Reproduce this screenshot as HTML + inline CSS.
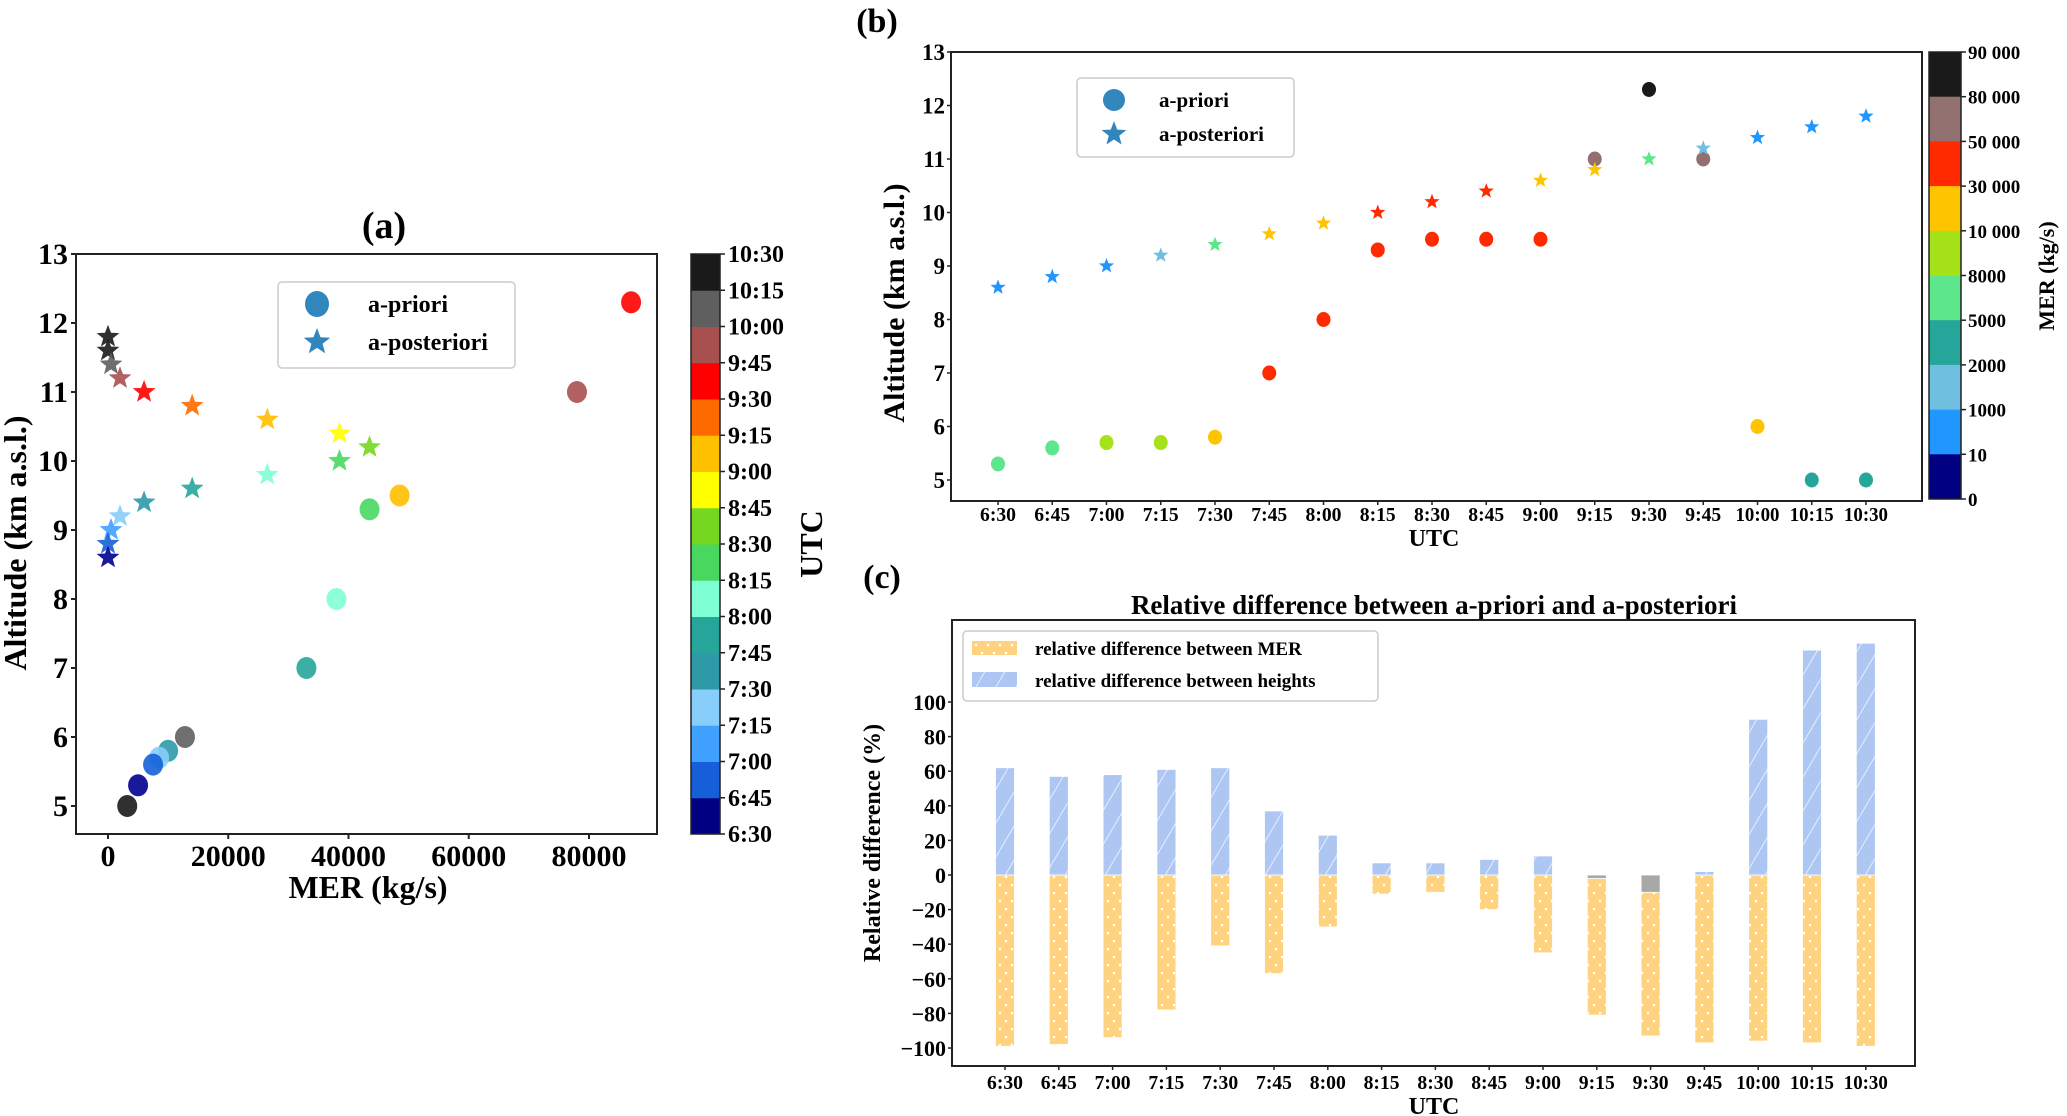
<!DOCTYPE html>
<html><head><meta charset="utf-8">
<style>
html,body{margin:0;padding:0;background:#fff;}
svg{display:block;font-family:"Liberation Serif","Times New Roman",serif;font-weight:bold;}
</style></head>
<body>
<svg id="fig" width="2067" height="1116" viewBox="0 0 2067 1116" xmlns="http://www.w3.org/2000/svg">
<defs>
<pattern id="dots" width="12" height="16" patternUnits="userSpaceOnUse"><rect width="12" height="16" fill="#ffd280"/><circle cx="4" cy="5" r="1.3" fill="#fff"/><circle cx="10" cy="13" r="1.3" fill="#fff"/></pattern>
<pattern id="hatch" width="20" height="34" patternUnits="userSpaceOnUse"><rect width="20" height="34" fill="#aec6f2"/><line x1="0" y1="34" x2="20" y2="0" stroke="#e6eefc" stroke-width="1"/></pattern>
</defs>
<g id="pa"></g>
<g id="pb"></g>
<g id="pc"></g>
</svg>
<script>
// ---------- Panel (a) data ----------
const aPrioriMER = [87000, 78000, 48500, 43500, 38000, 33000, 12800, 10000, 8500, 7500, 5000, 3200];
const aPrioriAlt = [12.3, 11.0, 9.5, 9.3, 8.0, 7.0, 6.0, 5.8, 5.7, 5.6, 5.3, 5.0];
const aPrioriColor = ['#ff0000','#a85050','#ffc000','#48d860','#7fffd4','#26a69a','#5f5f5f','#2e9aa8','#87cefa','#1560d8','#000090','#1a1a1a'];
const aPostMER = [0, 0, 500, 2000, 6000, 14000, 26500, 38500, 43500, 38500, 26500, 14000, 6000, 2000, 500, 0, 0];
const aPostAlt = [11.8, 11.6, 11.4, 11.2, 11.0, 10.8, 10.6, 10.4, 10.2, 10.0, 9.8, 9.6, 9.4, 9.2, 9.0, 8.8, 8.6];
const aPostColor = ['#1a1a1a','#1a1a1a','#5f5f5f','#a85050','#ff0000','#ff6a00','#ffc000','#ffff00','#74d820','#48d860','#7fffd4','#26a69a','#2e9aa8','#87cefa','#40a0ff','#1560d8','#000090'];
const aXTicks = [0, 20000, 40000, 60000, 80000];
const aXTickLabels = ['0','20000','40000','60000','80000'];
const aYTicks = [5,6,7,8,9,10,11,12,13];
const utcLabels = ['6:30','6:45','7:00','7:15','7:30','7:45','8:00','8:15','8:30','8:45','9:00','9:15','9:30','9:45','10:00','10:15','10:30'];
const utcColors = ['#000080','#1560d8','#40a0ff','#87cefa','#2e9aa8','#26a69a','#7fffd4','#48d860','#74d820','#ffff00','#ffc000','#ff6a00','#ff0000','#a85050','#5f5f5f','#1a1a1a'];

// ---------- Panel (b) data ----------
const bPriori = [5.3, 5.6, 5.7, 5.7, 5.8, 7.0, 8.0, 9.3, 9.5, 9.5, 9.5, 11.0, 12.3, 11.0, 6.0, 5.0, 5.0];
const bPrioriColor = ['#5ee68c','#5ee68c','#a6e21a','#a6e21a','#ffc400','#ff2a00','#ff2a00','#ff2a00','#ff2a00','#ff2a00','#ff2a00','#937070','#1a1a1a','#937070','#ffc400','#26a69a','#26a69a'];
const bPost = [8.6, 8.8, 9.0, 9.2, 9.4, 9.6, 9.8, 10.0, 10.2, 10.4, 10.6, 10.8, 11.0, 11.2, 11.4, 11.6, 11.8];
const bPostColor = ['#2196ff','#2196ff','#2196ff','#6fc0e0','#5ee68c','#ffc400','#ffc400','#ff2a00','#ff2a00','#ff2a00','#ffc400','#ffc400','#5ee68c','#6fc0e0','#2196ff','#2196ff','#2196ff'];
const merLabels = ['90 000','80 000','50 000','30 000','10 000','8000','5000','2000','1000','10','0'];
const merColors = ['#1a1a1a','#937070','#ff2a00','#ffc400','#a6e21a','#5ee68c','#26a69a','#6fc0e0','#2196ff','#000080'];

// ---------- Panel (c) data ----------
const cMER = [-99, -98, -94, -78, -41, -57, -30, -11, -10, -20, -45, -81, -93, -97, -96, -97, -99];
const cHeight = [62, 57, 58, 61, 62, 37, 23, 7, 7, 9, 11, -2, -10, 2, 90, 130, 134];
const cYTicks = [-100,-80,-60,-40,-20,0,20,40,60,80,100];

const NS='http://www.w3.org/2000/svg';
function mk(parent, tag, attrs, text){const e=document.createElementNS(NS,tag);for(const k in attrs)e.setAttribute(k,attrs[k]);if(text!==undefined)e.textContent=text;parent.appendChild(e);return e;}
function starPts(cx,cy,R){const r=R*0.42;let p=[];for(let i=0;i<10;i++){const a=-Math.PI/2+i*Math.PI/5;const rr=i%2?r:R;p.push((cx+rr*Math.cos(a)).toFixed(1)+','+(cy+rr*Math.sin(a)).toFixed(1));}return p.join(' ');}

// ===== Panel A =====
const A=document.getElementById('pa');
const ax={l:76,r:657,t:254,b:834};
const xA=v=>108+(v/80000)*(589-108);
const yA=v=>806-(v-5)*69;
let t=mk(A,'text',{x:384,y:238,'font-size':38,'text-anchor':'middle'},'(a)');


let fr=mk(A,'rect',{x:ax.l,y:ax.t,width:ax.r-ax.l,height:ax.b-ax.t,fill:'none',stroke:'#222','stroke-width':2});


aYTicks.forEach(v=>{const y=yA(v);mk(A,'line',{x1:ax.l-5,x2:ax.l,y1:y,y2:y,stroke:'#222','stroke-width':2});
 const e=mk(A,'text',{x:ax.l-8,y:y+10,'font-size':30,'text-anchor':'end'},String(v));
 
 });
aXTicks.forEach((v,i)=>{const x=xA(v);mk(A,'line',{x1:x,x2:x,y1:ax.b,y2:ax.b+5,stroke:'#222','stroke-width':2});
 const e=mk(A,'text',{x:x,y:ax.b+32,'font-size':30,'text-anchor':'middle'},aXTickLabels[i]);
 
 });
t=mk(A,'text',{x:368,y:898,'font-size':32,'text-anchor':'middle'},'MER (kg/s)');


t=mk(A,'text',{x:0,y:0,'font-size':32,'text-anchor':'middle',transform:'translate(26,543) rotate(-90)'},'Altitude (km a.s.l.)');


aPrioriMER.forEach((m,i)=>{const c=mk(A,'ellipse',{cx:xA(m),cy:yA(aPrioriAlt[i]),rx:10,ry:11,fill:aPrioriColor[i],opacity:0.9});
 
 });
aPostMER.forEach((m,i)=>{const s=mk(A,'polygon',{points:starPts(xA(m),yA(aPostAlt[i]),12),fill:aPostColor[i],opacity:0.9});
 
 });
// legend a
let lg=mk(A,'g',{});


mk(lg,'rect',{x:278,y:282,width:237,height:86,rx:4,fill:'#fff',stroke:'#ccc','stroke-width':1.5});
mk(lg,'ellipse',{cx:317,cy:304,rx:12,ry:13,fill:'#3186be'});
mk(lg,'polygon',{points:starPts(317,342,14),fill:'#3186be'});
mk(lg,'text',{x:368,y:312,'font-size':24},'a-priori');
mk(lg,'text',{x:368,y:350,'font-size':24},'a-posteriori');
// colorbar a
const cbA={x:691,w:29,t:254,b:834};const hA=(cbA.b-cbA.t)/utcColors.length;
utcColors.forEach((c,i)=>{const r=mk(A,'rect',{x:cbA.x,y:cbA.b-(i+1)*hA,width:cbA.w,height:hA+0.5,fill:c});
 
 });
mk(A,'rect',{x:cbA.x,y:cbA.t,width:cbA.w,height:cbA.b-cbA.t,fill:'none',stroke:'#222','stroke-width':1.5});
utcLabels.forEach((l,i)=>{const y=cbA.b-i*hA;mk(A,'line',{x1:cbA.x+cbA.w,x2:cbA.x+cbA.w+5,y1:y,y2:y,stroke:'#222','stroke-width':1.5});
 const e=mk(A,'text',{x:cbA.x+cbA.w+8,y:y+8,'font-size':24},l);
 
 });
t=mk(A,'text',{x:0,y:0,'font-size':32,'text-anchor':'middle',transform:'translate(822,544) rotate(-90)'},'UTC');



// ===== Panel B =====
const B=document.getElementById('pb');
const bx={l:951,r:1922,t:52,b:501};
const xB=i=>998+i*54.25;
const yB=v=>480-(v-5)*53.5;
t=mk(B,'text',{x:877,y:32,'font-size':34,'text-anchor':'middle'},'(b)');


fr=mk(B,'rect',{x:bx.l,y:bx.t,width:bx.r-bx.l,height:bx.b-bx.t,fill:'none',stroke:'#222','stroke-width':2});


aYTicks.forEach(v=>{const y=yB(v);mk(B,'line',{x1:bx.l-4,x2:bx.l,y1:y,y2:y,stroke:'#222','stroke-width':1.5});
 const e=mk(B,'text',{x:bx.l-6,y:y+8,'font-size':23,'text-anchor':'end'},String(v));
 
 });
utcLabels.forEach((l,i)=>{const x=xB(i);mk(B,'line',{x1:x,x2:x,y1:bx.b,y2:bx.b+4,stroke:'#222','stroke-width':1.5});
 const e=mk(B,'text',{x:x,y:bx.b+20,'font-size':20,'text-anchor':'middle',textLength:l.length>4?44:36,lengthAdjust:'spacingAndGlyphs'},l);
 
 });
t=mk(B,'text',{x:1434,y:546,'font-size':24,'text-anchor':'middle'},'UTC');


t=mk(B,'text',{x:0,y:0,'font-size':30,'text-anchor':'middle',transform:'translate(904,303) rotate(-90)'},'Altitude (km a.s.l.)');


bPriori.forEach((v,i)=>{const c=mk(B,'ellipse',{cx:xB(i),cy:yB(v),rx:7,ry:7.5,fill:bPrioriColor[i]});
 
 });
bPost.forEach((v,i)=>{const s=mk(B,'polygon',{points:starPts(xB(i),yB(v),8),fill:bPostColor[i]});
 
 });
lg=mk(B,'g',{});


mk(lg,'rect',{x:1077,y:78,width:217,height:79,rx:4,fill:'#fff',stroke:'#ccc','stroke-width':1.5});
mk(lg,'ellipse',{cx:1114,cy:100,rx:11,ry:11,fill:'#3186be'});
mk(lg,'polygon',{points:starPts(1114,134,13),fill:'#3186be'});
mk(lg,'text',{x:1159,y:107,'font-size':21},'a-priori');
mk(lg,'text',{x:1159,y:141,'font-size':21},'a-posteriori');
const cbB={x:1929,w:32,t:52,b:499};const hB=(cbB.b-cbB.t)/merColors.length;
merColors.forEach((c,i)=>{const r=mk(B,'rect',{x:cbB.x,y:cbB.t+i*hB,width:cbB.w,height:hB+0.5,fill:c});
 
 });
mk(B,'rect',{x:cbB.x,y:cbB.t,width:cbB.w,height:cbB.b-cbB.t,fill:'none',stroke:'#222','stroke-width':1.5});
merLabels.forEach((l,i)=>{const y=cbB.t+i*hB;mk(B,'line',{x1:cbB.x+cbB.w,x2:cbB.x+cbB.w+5,y1:y,y2:y,stroke:'#222','stroke-width':1.5});
 const e=mk(B,'text',{x:cbB.x+cbB.w+7,y:y+7,'font-size':19},l);
 
 });
t=mk(B,'text',{x:0,y:0,'font-size':22,'text-anchor':'middle',transform:'translate(2054,276) rotate(-90)'},'MER (kg/s)');



// ===== Panel C =====
const C=document.getElementById('pc');
const cx={l:952,r:1915,t:620,b:1066};
const xC=i=>1005+i*53.8;
const yC=v=>875-v*1.73;
t=mk(C,'text',{x:882,y:588,'font-size':34,'text-anchor':'middle'},'(c)');


t=mk(C,'text',{x:1434,y:614,'font-size':27,'text-anchor':'middle'},'Relative difference between a-priori and a-posteriori');


const bw=19;
cMER.forEach((v,i)=>{const y0=yC(0),y1=yC(v);const r=mk(C,'rect',{x:xC(i)-bw/2,y:Math.min(y0,y1),width:bw,height:Math.abs(y1-y0),fill:'url(#dots)',stroke:'#fff','stroke-width':0.8});
 
 });
cHeight.forEach((v,i)=>{const y0=yC(0),y1=yC(v);const r=mk(C,'rect',{x:xC(i)-bw/2,y:Math.min(y0,y1),width:bw,height:Math.abs(y1-y0),fill:v<0?'#a8a8a8':'url(#hatch)',stroke:'#fff','stroke-width':0.8});
 
 });
fr=mk(C,'rect',{x:cx.l,y:cx.t,width:cx.r-cx.l,height:cx.b-cx.t,fill:'none',stroke:'#222','stroke-width':2});


cYTicks.forEach(v=>{const y=yC(v);mk(C,'line',{x1:cx.l-4,x2:cx.l,y1:y,y2:y,stroke:'#222','stroke-width':1.5});
 const e=mk(C,'text',{x:cx.l-6,y:y+8,'font-size':22,'text-anchor':'end'},String(v).replace('-','\u2212'));
 
 });
utcLabels.forEach((l,i)=>{const x=xC(i);mk(C,'line',{x1:x,x2:x,y1:cx.b,y2:cx.b+4,stroke:'#222','stroke-width':1.5});
 const e=mk(C,'text',{x:x,y:cx.b+23,'font-size':20,'text-anchor':'middle',textLength:l.length>4?44:36,lengthAdjust:'spacingAndGlyphs'},l);
 
 });
t=mk(C,'text',{x:1434,y:1114,'font-size':24,'text-anchor':'middle'},'UTC');


t=mk(C,'text',{x:0,y:0,'font-size':24,'text-anchor':'middle',transform:'translate(880,843) rotate(-90)'},'Relative difference (%)');


lg=mk(C,'g',{});


mk(lg,'rect',{x:963,y:631,width:415,height:70,rx:4,fill:'#fff',stroke:'#ccc','stroke-width':1.5});
mk(lg,'rect',{x:972,y:641,width:45,height:14,fill:'url(#dots)'});
mk(lg,'rect',{x:972,y:672,width:45,height:15,fill:'url(#hatch)'});
mk(lg,'text',{x:1035,y:655,'font-size':19},'relative difference between MER');
mk(lg,'text',{x:1035,y:687,'font-size':19},'relative difference between heights');
</script>
</body></html>
